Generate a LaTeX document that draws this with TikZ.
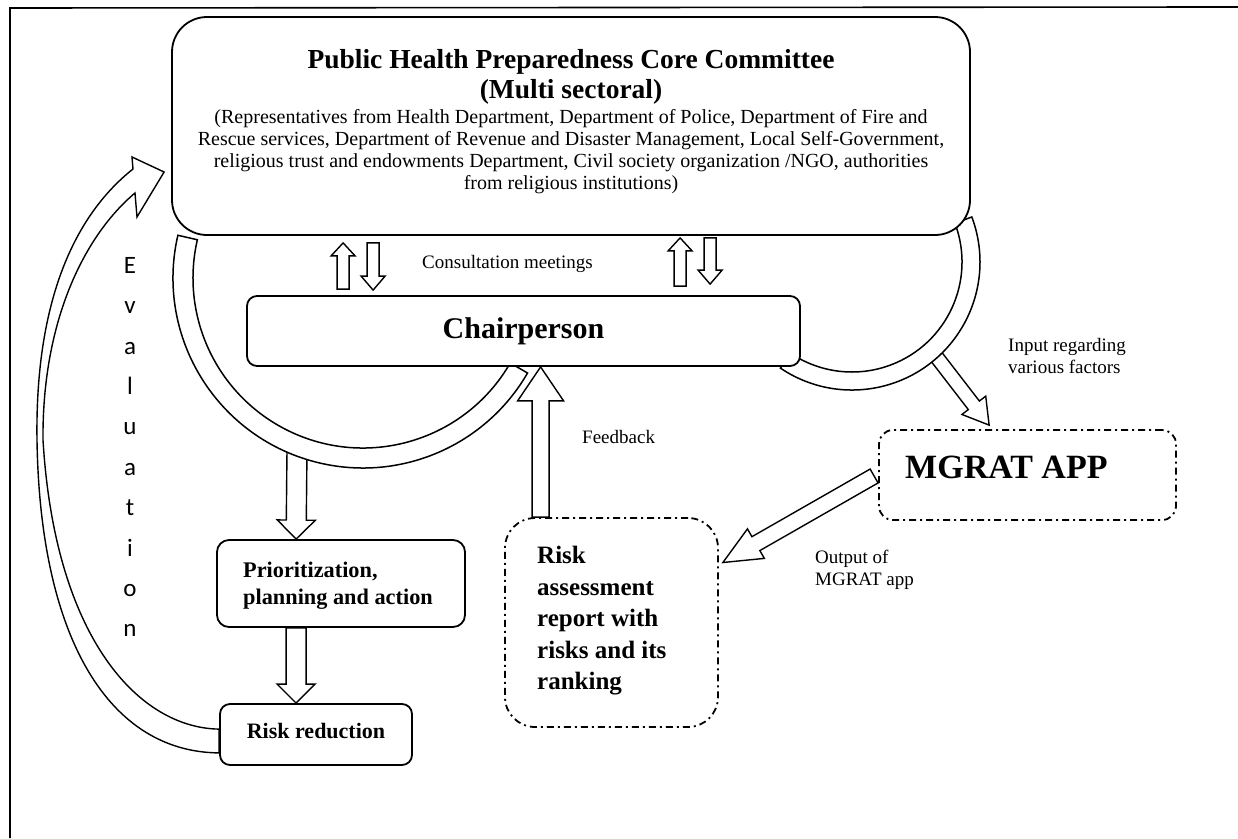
\documentclass[tikz,border=0pt]{standalone}
\usepackage{fontspec}
\setmainfont{Liberation Serif}
\newfontfamily\evalfont{Carlito}
\usetikzlibrary{calc}
\pgfdeclarelayer{paper}
\pgfdeclarelayer{bg}
\pgfdeclarelayer{mid}
\pgfsetlayers{paper,bg,mid,main}

% hollow block arrow: tail, tip, shaft half width, head length, head half width
\newcommand{\blockarrow}[5]{%
  \coordinate (ba-h) at ($#2!#4!#1$);
  \draw[hollow] ($#1!#3!90:#2$) -- ($(ba-h)!#3!90:#2$) -- ($(ba-h)!#5!90:#2$) -- #2
    -- ($(ba-h)!#5!-90:#2$) -- ($(ba-h)!#3!-90:#2$) -- ($#1!#3!-90:#2$) -- cycle;}

\tikzset{
  solidbox/.style={draw, line width=1.8pt, fill=white, inner sep=0pt, rounded corners=#1},
  dashbox/.style={draw, line width=1.8pt, fill=white, inner sep=0pt, rounded corners=#1,
    dash pattern=on 7pt off 4pt on 2pt off 4pt},
  hollow/.style={draw, line width=1.4pt, fill=white, line join=miter},
  band/.style={draw, line width=1.5pt, fill=white},
  lbl/.style={inner sep=0pt, font=\fontsize{19}{22}\selectfont},
}

\begin{document}
\begin{tikzpicture}[x=1pt,y=-1pt]
\useasboundingbox (0,0) rectangle (1238,838);
\begin{pgfonlayer}{paper}
  \fill[white] (0,0) rectangle (1238,838);
\end{pgfonlayer}

% page frame
\draw[line width=1.6pt] (10,838) -- (10,8) -- (1226,7);
\draw[line width=2.4pt] (1226,7) -- (1238,7);

% boxes
\node[solidbox=35pt, minimum width=798pt, minimum height=218pt] (comm) at (571,126) {};
\node[solidbox=10pt, minimum width=553pt, minimum height=70pt] (chair) at (523.5,331) {};
\node[solidbox=12pt, minimum width=248pt, minimum height=87pt] (prio) at (341,583.5) {};
\node[solidbox=10pt, minimum width=192pt, minimum height=61pt] (rred) at (316,734.5) {};
\node[dashbox=14pt, minimum width=297pt, minimum height=90pt] (mgrat) at (1027.5,475) {};
\node[dashbox=30pt, minimum width=213pt, minimum height=209pt] (risk) at (611.5,622.5) {};

% centres of the two curved bands
\coordinate (c1) at (363,278);
\coordinate (c2) at (852,262);

% arrow end points
\coordinate (cu1s) at ($(chair.north west)+(97,-6)$);
\coordinate (cu1t) at ($(comm.south west)+(172,7)$);
\coordinate (cd1s) at ($(comm.south west)+(202,7)$);
\coordinate (cd1t) at ($(chair.north west)+(127,-5)$);
\coordinate (cu2s) at ($(chair.north west)+(434,-9)$);
\coordinate (cu2t) at ($(comm.south west)+(509,2)$);
\coordinate (cd2s) at ($(comm.south west)+(539,2)$);
\coordinate (cd2t) at ($(chair.north west)+(464,-11)$);
\coordinate (prs) at ($(c1)+(-66,172)$);
\coordinate (prt) at ($(prio.north west)+(80,0)$);
\coordinate (rrs) at ($(prio.south west)+(80,0)$);
\coordinate (rrt) at ($(rred.north west)+(77,0)$);
\coordinate (fbs) at ($(risk.north west)+(36.5,0)$);
\coordinate (fbt) at ($(chair.south west)+(294.5,0)$);
\coordinate (ins) at ($(c2)+(48:118)$);
\coordinate (int) at ($(mgrat.north west)+(111,-4)$);
\coordinate (outs) at ($(mgrat.west)+(-4,1)$);
\coordinate (outt) at ($(risk.east)+(4,-60)$);
\coordinate (evo) at ($(rred.south west)+(0,-13)$);
\coordinate (evi) at ($(rred.north west)+(0,26)$);
\coordinate (evtip) at ($(comm.west)+(-7,46)$);

\begin{pgfonlayer}{bg}
  % evaluation loop back to the committee
  \draw[hollow] (evo) .. controls (110,752) and (40,640) .. (37,440)
    .. controls (35,300) and (75,215) .. (133,169) -- (132,157) -- (evtip)
    -- (137,217) -- (135,193) .. controls (85,235) and (42,320) .. (43,440)
    .. controls (55,640) and (140,728) .. (evi) -- cycle;
  \blockarrow{(prs)}{(prt)}{10pt}{19pt}{19pt}
  \blockarrow{(ins)}{(int)}{7pt}{25pt}{15pt}
\end{pgfonlayer}

\begin{pgfonlayer}{mid}
  \draw[band] ($(c1)+(193:190)$) arc[start angle=193, end angle=30, radius=190]
    -- ($(c1)+(30:170)$) arc[start angle=30, end angle=193, radius=170] -- cycle;
  \draw[band] ($(c2)+(124:128)$) arc[start angle=124, end angle=-20.6, radius=128]
    -- ($(c2)+(-20.6:110)$) arc[start angle=-20.6, end angle=124, radius=110] -- cycle;
\end{pgfonlayer}

% consultation arrows
\blockarrow{(cu1s)}{(cu1t)}{6pt}{13pt}{12pt}
\blockarrow{(cd1s)}{(cd1t)}{6pt}{14pt}{12pt}
\blockarrow{(cu2s)}{(cu2t)}{6pt}{13pt}{12pt}
\blockarrow{(cd2s)}{(cd2t)}{6pt}{14pt}{12pt}
% flow arrows
\blockarrow{(rrs)}{(rrt)}{10pt}{19pt}{19pt}
\blockarrow{(fbs)}{(fbt)}{8.5pt}{34pt}{23pt}
\blockarrow{(outs)}{(outt)}{8pt}{38pt}{17pt}

% texts
\node[font=\fontsize{27.5}{30}\selectfont\bfseries, align=center, inner sep=0pt] (ttl) at (571,77)
  {Public Health Preparedness Core Committee\\(Multi sectoral)};
\node[font=\fontsize{20}{22}\selectfont, align=center, inner sep=0pt] (members) at (571,152)
  {(Representatives from Health Department, Department of Police, Department of Fire and\\
   Rescue services, Department of Revenue and Disaster Management, Local Self-Government,\\
   religious trust and endowments Department, Civil society organization /NGO, authorities\\
   from religious institutions)};
\node[font=\fontsize{30}{36}\selectfont\bfseries, inner sep=0pt] (chairtxt) at (523.5,331) {Chairperson};
\node[lbl, anchor=base west] (consult) at (422,268) {Consultation meetings};
\node[lbl, anchor=base west] (fbtxt) at (582,443) {Feedback};
\node[lbl, align=left, anchor=west] (intxt) at (1008,356) {Input regarding\\various factors};
\node[lbl, align=left, anchor=west] (outtxt) at (815,569.5) {Output of\\MGRAT app};
\node[font=\fontsize{34}{40}\selectfont\bfseries, inner sep=0pt, anchor=base west] (mgrattxt) at (905,478) {MGRAT APP};
\node[font=\fontsize{25}{31.5}\selectfont\bfseries, inner sep=0pt, align=left, anchor=west] (risktxt) at (537,621)
  {Risk\\assessment\\report with\\risks and its\\ranking};
\node[font=\fontsize{22.3}{27}\selectfont\bfseries, inner sep=0pt, align=left, anchor=west] (priotxt) at (243,586)
  {Prioritization,\\planning and action};
\node[font=\fontsize{22}{26}\selectfont\bfseries, inner sep=0pt, anchor=base] (rredtxt) at (316,738) {Risk reduction};
\node[font=\evalfont\fontsize{25}{40.4}\selectfont, align=center, inner sep=0pt] (evaltxt) at (130,447)
  {E\\v\\a\\l\\u\\a\\t\\i\\o\\n};
\end{tikzpicture}
\end{document}
